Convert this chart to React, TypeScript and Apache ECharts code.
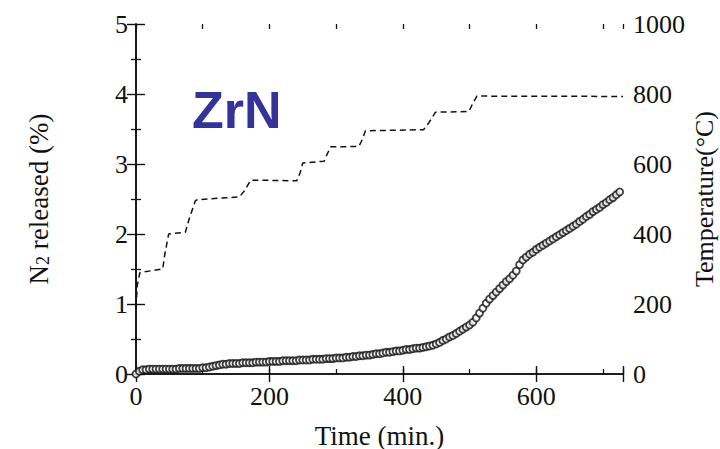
import React, { useEffect, useRef } from "react";
import * as echarts from "echarts";

// N2 released (%) vs time (min), read every 5 minutes
const timeMin = [
  0, 5, 10, 15, 20, 25, 30, 35, 40, 45, 50, 55, 60, 65, 70, 75, 80, 85, 90, 95,
  100, 105, 110, 115, 120, 125, 130, 135, 140, 145, 150, 155, 160, 165, 170, 175, 180, 185, 190, 195,
  200, 205, 210, 215, 220, 225, 230, 235, 240, 245, 250, 255, 260, 265, 270, 275, 280, 285, 290, 295,
  300, 305, 310, 315, 320, 325, 330, 335, 340, 345, 350, 355, 360, 365, 370, 375, 380, 385, 390, 395,
  400, 405, 410, 415, 420, 425, 430, 435, 440, 445, 450, 455, 460, 465, 470, 475, 480, 485, 490, 495,
  500, 505, 510, 515, 520, 525, 530, 535, 540, 545, 550, 555, 560, 565, 570, 575, 580, 585, 590, 595,
  600, 605, 610, 615, 620, 625, 630, 635, 640, 645, 650, 655, 660, 665, 670, 675, 680, 685, 690, 695,
  700, 705, 710, 715, 720, 725,
];
const n2Released = [
  0.0, 0.04, 0.06, 0.06, 0.07, 0.07, 0.07, 0.07, 0.07, 0.07, 0.07, 0.07, 0.07, 0.08, 0.08, 0.08, 0.08, 0.08, 0.08, 0.08,
  0.09, 0.09, 0.1, 0.11, 0.12, 0.13, 0.14, 0.14, 0.15, 0.15, 0.15, 0.15, 0.16, 0.16, 0.16, 0.16, 0.17, 0.17, 0.17, 0.17,
  0.18, 0.18, 0.18, 0.18, 0.19, 0.19, 0.19, 0.19, 0.19, 0.2, 0.2, 0.2, 0.2, 0.21, 0.21, 0.21, 0.21, 0.22, 0.22, 0.22,
  0.23, 0.23, 0.23, 0.24, 0.24, 0.25, 0.25, 0.26, 0.26, 0.27, 0.27, 0.28, 0.29, 0.29, 0.3, 0.31, 0.31, 0.32, 0.33, 0.33,
  0.34, 0.35, 0.35, 0.36, 0.37, 0.37, 0.38, 0.39, 0.4, 0.41, 0.43, 0.45, 0.48, 0.5, 0.53, 0.55, 0.58, 0.61, 0.64, 0.67,
  0.7, 0.74, 0.8, 0.87, 0.94, 1.01, 1.07, 1.12, 1.17, 1.22, 1.27, 1.32, 1.36, 1.41, 1.47, 1.56, 1.63, 1.67, 1.71, 1.74,
  1.78, 1.81, 1.84, 1.87, 1.9, 1.93, 1.96, 1.99, 2.02, 2.05, 2.08, 2.11, 2.14, 2.18, 2.21, 2.25, 2.28, 2.32, 2.35, 2.38,
  2.42, 2.45, 2.49, 2.52, 2.56, 2.6,
];

// Temperature program (°C) vs time (min)
const tempTime = [0, 2, 6, 40, 43, 49, 74, 80, 89, 92, 155, 162, 172, 241, 246, 250, 282, 287, 292, 334, 338, 344, 431, 439, 449, 499, 504, 511, 730];
const tempC = [190, 255, 290, 300, 340, 400, 405, 445, 495, 498, 506, 522, 554, 552, 575, 603, 608, 630, 649, 650, 665, 695, 698, 718, 748, 750, 770, 794, 793];

const title = "ZrN";
const xName = "Time (min.)";
const yRightName = "Temperature(°C)";

export default function App() {
  const ref = useRef<HTMLDivElement>(null);
  useEffect(() => {
    const chart = echarts.init(ref.current as HTMLDivElement, null, { renderer: "svg" });
    const serif = "'Liberation Serif', 'DejaVu Serif', serif";
    const ink = "#111";
    const gridBox = { left: 136, top: 24, width: 487, height: 350, containLabel: false, outerBoundsMode: "none" };
    const labelStyle = { color: ink, fontSize: 26, fontFamily: serif };
    const n2Data = timeMin.map((t, i) => [t, n2Released[i]]);
    const tempData = tempTime.map((t, i) => [t, tempC[i]]);

    chart.setOption({
      animation: false,
      backgroundColor: "#fff",
      title: {
        text: title,
        left: 192,
        top: 84,
        padding: 0,
        textStyle: { color: "#333399", fontSize: 52, fontWeight: "bold", fontFamily: "'Liberation Sans', Arial, sans-serif" },
      },
      grid: [{ ...gridBox }, { ...gridBox }],
      xAxis: [
        {
          type: "value", gridIndex: 0, position: "bottom", min: 0, max: 730, interval: 200,
          axisLine: { show: true, lineStyle: { color: ink, width: 1.6 } },
          axisTick: { show: true, inside: true, length: 8, lineStyle: { color: ink, width: 1.4 } },
          axisLabel: { ...labelStyle, margin: 9, formatter: (v: number) => (v % 200 === 0 ? String(v) : "") },
          splitLine: { show: false },
          name: xName, nameLocation: "middle", nameGap: 48,
          nameTextStyle: { color: ink, fontSize: 27, fontFamily: serif },
        },
        {
          type: "value", gridIndex: 0, position: "top", min: 0, max: 730, interval: 200,
          axisLine: { show: true, lineStyle: { color: ink, width: 1.6 } },
          axisTick: { show: true, inside: true, length: 8, lineStyle: { color: ink, width: 1.4 } },
          axisLabel: { show: false },
          splitLine: { show: false },
        },
        {
          type: "value", gridIndex: 1, position: "bottom", min: 0, max: 730, interval: 100,
          axisLine: { show: false },
          axisTick: { show: true, inside: true, length: 5, lineStyle: { color: ink, width: 1.3 } },
          axisLabel: { show: false },
          splitLine: { show: false },
        },
        {
          type: "value", gridIndex: 1, position: "top", min: 0, max: 730, interval: 100,
          axisLine: { show: false },
          axisTick: { show: true, inside: true, length: 5, lineStyle: { color: ink, width: 1.3 } },
          axisLabel: { show: false },
          splitLine: { show: false },
        },
      ],
      yAxis: [
        {
          type: "value", gridIndex: 0, position: "left", min: 0, max: 5, interval: 1,
          axisLine: { show: true, lineStyle: { color: ink, width: 1.6 } },
          axisTick: { show: true, inside: true, length: 9, lineStyle: { color: ink, width: 1.4 } },
          minorTick: { show: true, splitNumber: 2, length: 5, lineStyle: { color: ink, width: 1.3 } },
          axisLabel: { ...labelStyle, margin: 8 },
          splitLine: { show: false },
          name: "{a|N}{s|2}{a| released (%)}",
          nameLocation: "middle", nameGap: 84, nameRotate: 90,
          nameTextStyle: {
            color: ink, fontSize: 27, fontFamily: serif,
            rich: {
              a: { color: ink, fontSize: 27, fontFamily: serif },
              s: { color: ink, fontSize: 18, fontFamily: serif, verticalAlign: "bottom" },
            },
          },
        },
        {
          type: "value", gridIndex: 0, position: "right", min: 0, max: 1000, interval: 200,
          axisLine: { show: true, lineStyle: { color: ink, width: 1.6 } },
          axisTick: { show: true, inside: true, length: 9, lineStyle: { color: ink, width: 1.4 } },
          minorTick: { show: true, splitNumber: 2, length: 5, lineStyle: { color: ink, width: 1.3 } },
          axisLabel: { ...labelStyle, margin: 10, formatter: (v: number) => String(v) },
          splitLine: { show: false },
          name: yRightName,
          nameLocation: "middle", nameGap: 68, nameRotate: 90, nameMoveOverlap: false,
          nameTextStyle: { color: ink, fontSize: 26, fontFamily: serif },
        },
        { type: "value", gridIndex: 1, min: 0, max: 1, show: false },
      ],
      series: [
        {
          type: "line",
          name: "Temperature",
          xAxisIndex: 0,
          yAxisIndex: 1,
          data: tempData,
          showSymbol: false,
          symbol: "none",
          lineStyle: { color: ink, width: 1.5, type: [6, 4] },
          z: 2,
        },
        {
          type: "scatter",
          name: "N2 released",
          xAxisIndex: 0,
          yAxisIndex: 0,
          data: n2Data,
          symbol: "circle",
          symbolSize: 7,
          itemStyle: { color: "#fff", borderColor: ink, borderWidth: 1.8 },
          z: 3,
        },
      ],
    });
    return () => chart.dispose();
  }, []);
  return (
    <div
      ref={ref}
      style={{ position: "fixed", left: 0, top: 0, width: 720, height: 449, background: "#fff" }}
    />
  );
}
